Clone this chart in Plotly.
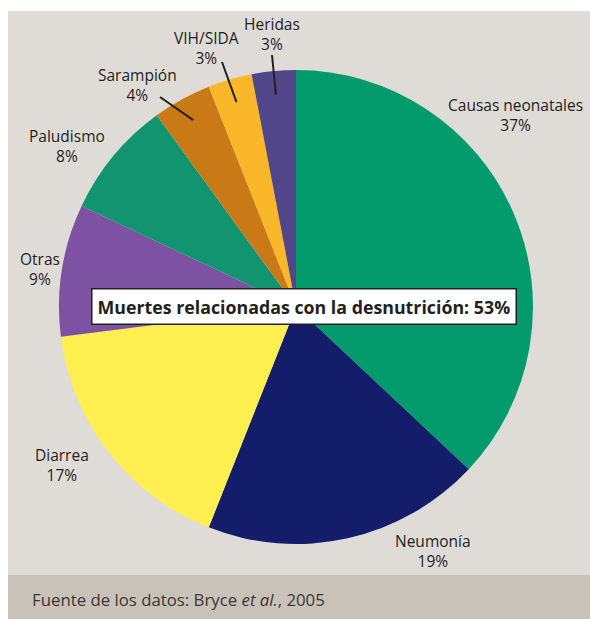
import math
import plotly.graph_objects as go

# ---- data ----
categories = ["Causas neonatales", "Neumonía", "Diarrea", "Otras",
              "Paludismo", "Sarampión", "VIH/SIDA", "Heridas"]
values = [37, 19, 17, 9, 8, 4, 3, 3]
pct_labels = ["37%", "19%", "17%", "9%", "8%", "4%", "3%", "3%"]
colors = ["#039b6b", "#141d69", "#fdef50", "#7e52a2",
          "#139470", "#c97a17", "#fbb72a", "#504689"]

W, H = 590, 619
CX, CY, R = 296, 307, 237

# label text centre positions (pixels) - layout only
label_pos = [(515, 115), (433, 551), (62, 465), (40, 269),
             (67, 146), (137, 85), (206, 48), (272, 34)]
# outer ends of leader lines for the small slices (pixels)
leader_outer = {5: (160, 97), 6: (222, 62), 7: (272, 55)}

FONT = "Open Sans, Noto Sans, sans-serif"


def px(x):
    return x / W


def py(y):
    return 1 - y / H


fig = go.Figure()
fig.add_trace(go.Pie(
    labels=categories, values=values, sort=False, direction="clockwise",
    rotation=0, marker=dict(colors=colors, line=dict(width=0)),
    textinfo="none", hoverinfo="label+percent", showlegend=False,
    domain=dict(x=[px(CX - R), px(CX + R)], y=[py(CY + R), py(CY - R)]),
))

shapes = [
    dict(type="rect", xref="paper", yref="paper", x0=px(8), x1=1,
         y0=py(575), y1=py(11), fillcolor="#dfdcd8", line=dict(width=0),
         layer="below"),
    dict(type="rect", xref="paper", yref="paper", x0=px(8), x1=1,
         y0=0, y1=py(575), fillcolor="#c9c2b8", line=dict(width=0),
         layer="below"),
]

annotations = []
total = sum(values)
cum = 0
for i, (cat, v, p) in enumerate(zip(categories, values, pct_labels)):
    mid = (cum + v / 2) / total * 2 * math.pi
    cum += v
    lx, ly = label_pos[i]
    annotations.append(dict(
        x=px(lx), y=py(ly), xref="paper", yref="paper",
        text=f"{cat}<br>{p}", showarrow=False,
        font=dict(family=FONT, size=15.5, color="#231f20"),
        align="center", xanchor="center", yanchor="middle",
    ))
    if i in leader_outer:
        ix = CX + 0.9 * R * math.sin(mid)
        iy = CY - 0.9 * R * math.cos(mid)
        ox, oy = leader_outer[i]
        shapes.append(dict(type="line", xref="paper", yref="paper",
                           x0=px(ox), y0=py(oy), x1=px(ix), y1=py(iy),
                           line=dict(color="#231f20", width=2)))

# central box
annotations.append(dict(
    x=px(304), y=py(306), xref="paper", yref="paper",
    text="<b>Muertes relacionadas con la desnutrición: 53%</b>",
    showarrow=False, bgcolor="white", bordercolor="#231f20", borderwidth=1.5,
    borderpad=5,
    font=dict(family=FONT, size=17.8, color="#231f20"),
    xanchor="center", yanchor="middle",
))

# source footer
annotations.append(dict(
    x=px(30), y=py(599), xref="paper", yref="paper",
    text="Fuente de los datos: Bryce <i>et al.</i>, 2005", showarrow=False,
    font=dict(family=FONT, size=16.8, color="#3a3634"),
    xanchor="left", yanchor="middle",
))

fig.update_layout(
    width=W, height=H, margin=dict(l=0, r=0, t=0, b=0),
    paper_bgcolor="white", plot_bgcolor="white",
    shapes=shapes, annotations=annotations,
)

fig.write_html(
    "out.html",
    config={"displayModeBar": False},
    post_script="document.body.style.margin='0';document.body.style.overflow='hidden';",
)
